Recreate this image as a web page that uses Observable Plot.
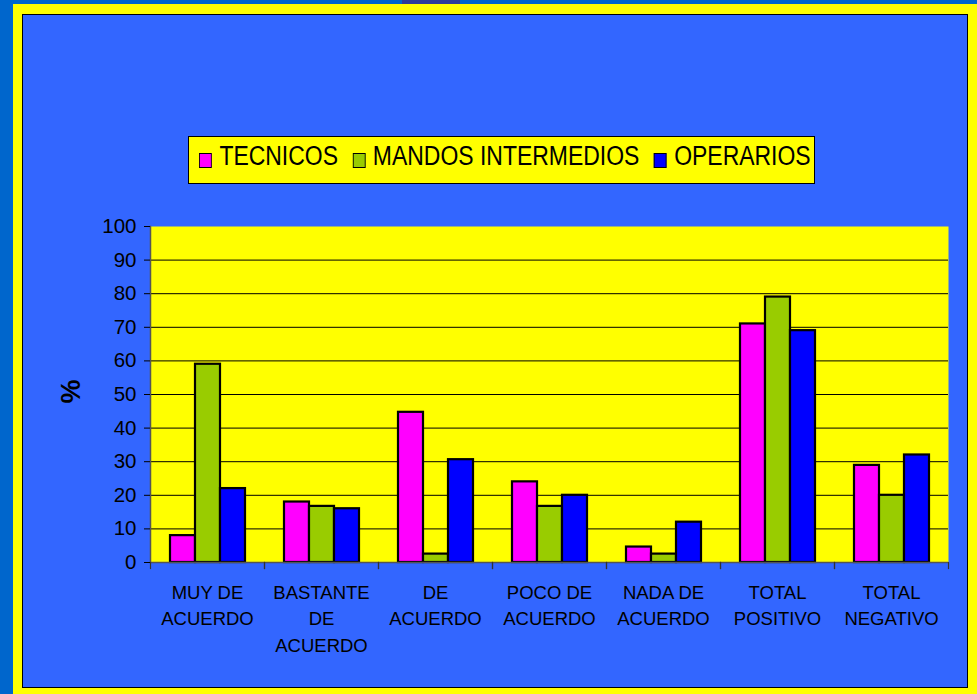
<!DOCTYPE html>
<html>
<head>
<meta charset="utf-8">
<script src="https://cdn.jsdelivr.net/npm/d3@7"></script>
<script src="https://cdn.jsdelivr.net/npm/@observablehq/plot@0.6"></script>
<style>
  html, body { margin: 0; padding: 0; }
  body { width: 977px; height: 694px; overflow: hidden; position: relative; background: #0066CC; font-family: "Liberation Sans", Arial, sans-serif; }
  #yellowframe { position: absolute; left: 13px; top: 4px; right: 0; bottom: 0; background: #FFFF00; }
  #deco { position: absolute; left: 402px; top: 0; width: 58px; height: 4px; background: #2E3C9A; }
  #panel { position: absolute; left: 22px; top: 14px; width: 946px; height: 674px; box-sizing: border-box; background: #3366FF; border: 1.5px solid #000; }
  #chart { position: absolute; left: 0; top: 0; }
  #legend { position: absolute; left: 188px; top: 136px; width: 627px; height: 48px; box-sizing: border-box; background: #FFFF00; border: 1px solid #000; overflow: hidden; }
  #legend .inner { position: absolute; left: 10px; top: 0; height: 46px; display: flex; align-items: center; transform: scaleX(0.85); transform-origin: 0 50%;
            font-family: "Liberation Sans", Arial, sans-serif; font-size: 27px; color: #000; white-space: nowrap; }
  #legend .sw { display: inline-block; width: 13px; height: 13px; border: 1.5px solid #000; margin-right: 9px; margin-top: 0px; }
  #legend .it { display: inline-flex; align-items: center; margin-right: 17px; }
  #legend .tx { position: relative; top: -4px; }
</style>
</head>
<body>
<div id="yellowframe"></div>
<div id="deco"></div>
<div id="panel"></div>
<div id="chart"></div>
<div id="legend"><div class="inner"></div></div>
<script>
const categories = ["MUY DE ACUERDO", "BASTANTE DE ACUERDO", "DE ACUERDO", "POCO DE ACUERDO", "NADA DE ACUERDO", "TOTAL POSITIVO", "TOTAL NEGATIVO"];
const categoryLabels = ["MUY DE\nACUERDO", "BASTANTE\nDE\nACUERDO", "DE\nACUERDO", "POCO DE\nACUERDO", "NADA DE\nACUERDO", "TOTAL\nPOSITIVO", "TOTAL\nNEGATIVO"];
const series = ["TECNICOS", "MANDOS INTERMEDIOS", "OPERARIOS"];
const seriesColors = ["#FF00FF", "#99CC00", "#0000FF"];
const tecnicos = [8, 18, 44.7, 24, 4.6, 71, 28.9];
const mandos = [59, 16.7, 2.5, 16.7, 2.5, 79, 20];
const operarios = [22, 16, 30.6, 20, 12, 69, 32];
const yTicks = [0, 10, 20, 30, 40, 50, 60, 70, 80, 90, 100];
const gridTicks = [10, 20, 30, 40, 50, 60, 70, 80, 90];
const yLabel = "%";

const seriesValues = [tecnicos, mandos, operarios];
const data = [];
categories.forEach((c, i) => {
  series.forEach((s, j) => data.push({cat: c, series: s, value: seriesValues[j][i]}));
});
const labelOf = new Map(categories.map((c, i) => [c, categoryLabels[i]]));

const chart = Plot.plot({
  width: 977,
  height: 694,
  marginTop: 226,
  marginBottom: 132,
  marginLeft: 147,
  marginRight: 27,
  style: { background: "transparent", fontFamily: "'Liberation Sans', Arial, sans-serif", color: "#000" },
  fx: { domain: categories, padding: 0, axis: null },
  x: { domain: series, paddingInner: 0, paddingOuter: 0.7, axis: null },
  y: { domain: [0, 100], axis: null },
  color: { domain: series, range: seriesColors },
  marks: [
    Plot.frame({ fill: "#FFFF00", facet: "super" }),
    Plot.gridY(gridTicks, { stroke: "#000", strokeOpacity: 1, strokeWidth: 1 }),
    Plot.barY(data, { fx: "cat", x: "series", y: "value", fill: "series", stroke: "#000", strokeWidth: 2.2 }),
    Plot.ruleY([0], { stroke: "#555", strokeWidth: 1.5 }),
    Plot.frame({ anchor: "left", facet: "super", stroke: "#555", strokeWidth: 1.5 }),
    Plot.frame({ anchor: "left", stroke: "#333", strokeWidth: 1.2, insetTop: 336, insetBottom: -6 }),
    Plot.frame({ anchor: "right", stroke: "#333", strokeWidth: 1.2, insetTop: 336, insetBottom: -6 }),
    Plot.axisY(yTicks, { tickSize: 6, tickPadding: 8, fontSize: 20.5, label: null, stroke: "#000" }),
    Plot.axisFx({ anchor: "bottom", tickSize: 0, tickPadding: 17, fontSize: 18.5, lineHeight: 1.45, label: null, tickFormat: c => labelOf.get(c) }),
    Plot.text([yLabel], { facet: "super", frameAnchor: "left", textAnchor: "middle", lineAnchor: "middle", text: d => d, rotate: -90, dx: -79, dy: -3, fontSize: 27, fontWeight: "bold", fill: "#000" })
  ]
});
document.getElementById("chart").appendChild(chart);

const legend = document.querySelector("#legend .inner");
series.forEach((s, i) => {
  const it = document.createElement("span");
  it.className = "it";
  const sw = document.createElement("span");
  sw.className = "sw";
  sw.style.background = seriesColors[i];
  const tx = document.createElement("span");
  tx.className = "tx";
  tx.textContent = s;
  it.appendChild(sw);
  it.appendChild(tx);
  legend.appendChild(it);
});
</script>
</body>
</html>
